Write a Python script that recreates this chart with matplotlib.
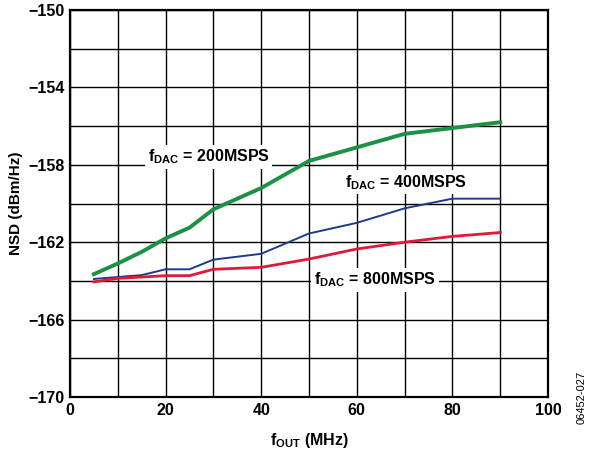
import matplotlib.pyplot as plt
import matplotlib

matplotlib.rcParams['font.family'] = ['Liberation Sans', 'DejaVu Sans']
matplotlib.rcParams['font.weight'] = 'bold'
matplotlib.rcParams['axes.labelweight'] = 'bold'
matplotlib.rcParams['mathtext.fontset'] = 'custom'
matplotlib.rcParams['mathtext.rm'] = 'Liberation Sans:bold'
matplotlib.rcParams['mathtext.it'] = 'Liberation Sans:bold'
matplotlib.rcParams['mathtext.bf'] = 'Liberation Sans:bold'

f_out = [5, 10, 15, 20, 25, 30, 40, 50, 60, 70, 80, 90]
nsd_200 = [-163.65, -163.1, -162.5, -161.8, -161.25, -160.3, -159.2, -157.8, -157.1, -156.4, -156.1, -155.8]
nsd_400 = [-163.9, -163.8, -163.7, -163.4, -163.4, -162.9, -162.6, -161.55, -161.0, -160.25, -159.75, -159.75]
nsd_800 = [-164.05, -163.87, -163.8, -163.73, -163.73, -163.4, -163.3, -162.87, -162.35, -162.0, -161.7, -161.5]

fig = plt.figure(figsize=(5.92, 4.62), dpi=100)
ax = fig.add_axes([70 / 592, 1 - 397 / 462, 478 / 592, 387 / 462])

ax.plot(f_out, nsd_200, color='#1a9145', lw=2.8)
ax.plot(f_out, nsd_400, color='#1f3a8c', lw=1.4)
ax.plot(f_out, nsd_800, color='#e3173a', lw=2.0)

ax.set_xlim(0, 100)
ax.set_ylim(-170, -150)
ax.set_xticks(range(0, 101, 10))
ax.set_xticklabels([str(v) if v % 20 == 0 else '' for v in range(0, 101, 10)])
ax.set_yticks(range(-170, -149, 2))
ax.set_yticklabels(['\u2212' + str(-v) if v % 4 == 2 else '' for v in range(-170, -149, 2)])
ax.grid(True, color='black', lw=1.0)
ax.set_axisbelow(True)
ax.tick_params(length=0, labelsize=11.5, pad=4)
for s in ax.spines.values():
    s.set_linewidth(1.6)

ax.set_xlabel(r'f$_{\mathregular{OUT}}$ (MHz)', fontsize=11.5, labelpad=10)
ax.set_ylabel('NSD (dBm/Hz)', fontsize=11, labelpad=4)

box = dict(facecolor='white', edgecolor='none', pad=2)
ax.text(29, -157.6, r'f$_{\mathregular{DAC}}$ = 200MSPS', ha='center', va='center', fontsize=11.5, bbox=box)
ax.text(70.3, -158.9, r'f$_{\mathregular{DAC}}$ = 400MSPS', ha='center', va='center', fontsize=11.5, bbox=box)
ax.text(63.8, -163.95, r'f$_{\mathregular{DAC}}$ = 800MSPS', ha='center', va='center', fontsize=11.5, bbox=box)

fig.text(582 / 592, 1 - 397 / 462, '06452-027', rotation=90, ha='center', va='center',
         fontsize=8, fontweight='normal')

plt.savefig('out.png', dpi=100)
